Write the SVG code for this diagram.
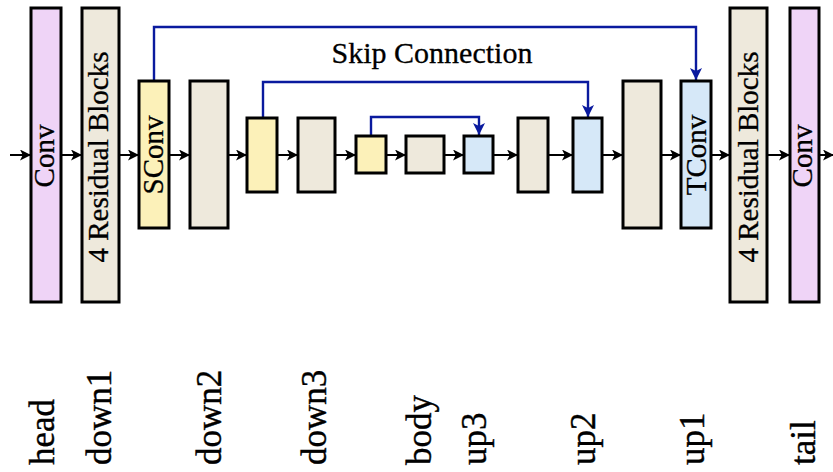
<svg xmlns="http://www.w3.org/2000/svg" width="833" height="472" viewBox="0 0 833 472">
  <defs>
    <marker id="arrow" viewBox="0 0 10 10" refX="10" refY="5" markerWidth="11" markerHeight="11" markerUnits="userSpaceOnUse" orient="auto">
      <path d="M0,0 L10,5 L0,10 L2.5,5 Z" fill="#000"/>
    </marker>
    <marker id="arrow-blue" viewBox="0 0 10 10" refX="10" refY="5" markerWidth="12" markerHeight="12" markerUnits="userSpaceOnUse" orient="auto">
      <path d="M0,0 L10,5 L0,10 L2.5,5 Z" fill="#0a1a9e"/>
    </marker>
    <style>
      .blk { stroke: #000; stroke-width: 3; }
      .conv { fill: #efd4f7; }
      .res { fill: #eee9dc; }
      .down { fill: #fcf1b9; }
      .up { fill: #d6e8f8; }
      .flow { stroke: #000; stroke-width: 2; fill: none; marker-end: url(#arrow); }
      .skip { stroke: #0a1a9e; stroke-width: 2.4; fill: none; marker-end: url(#arrow-blue); }
      .in { font-family: "Liberation Serif", "DejaVu Serif", serif; font-size: 29px; fill: #000; stroke: #000; stroke-width: 0.3; text-anchor: middle; }
      .cap { font-family: "Liberation Serif", "DejaVu Serif", serif; font-size: 35px; fill: #000; stroke: #000; stroke-width: 0.4; text-anchor: start; }
      .title { font-family: "Liberation Serif", "DejaVu Serif", serif; font-size: 30px; fill: #000; stroke: #000; stroke-width: 0.3; text-anchor: middle; }
    </style>
  </defs>

  <!-- main data path and skip connections -->
  <g id="connectors">
    <path class="flow" d="M10,155 H31"/>
    <path class="flow" d="M61,155 H82"/>
    <path class="flow" d="M119,155 H139"/>
    <path class="flow" d="M169,155 H190"/>
    <path class="flow" d="M228,155 H247"/>
    <path class="flow" d="M277,155 H298"/>
    <path class="flow" d="M335,155 H356"/>
    <path class="flow" d="M386,155 H406"/>
    <path class="flow" d="M444,155 H464"/>
    <path class="flow" d="M493,155 H518"/>
    <path class="flow" d="M548,155 H573"/>
    <path class="flow" d="M602,155 H623"/>
    <path class="flow" d="M661,155 H681"/>
    <path class="flow" d="M711,155 H730"/>
    <path class="flow" d="M767,155 H790"/>
    <path class="flow" d="M819,155 H834"/>

    <path class="skip" d="M154,80 V27 H696 V80"/>
    <path class="skip" d="M263,117 V82 H588 V117"/>
    <path class="skip" d="M371,135 V117 H479 V135"/>
    <text class="title" x="432" y="63">Skip Connection</text>
  </g>

  <g id="head">
    <rect class="blk conv" x="31" y="8" width="30" height="294"/>
    <text class="in" transform="translate(54,156) rotate(-90)">Conv</text>
  </g>
  <g id="down1-res">
    <rect class="blk res" x="82" y="8" width="37" height="294"/>
    <text class="in" transform="translate(108,157) rotate(-90)">4 Residual Blocks</text>
  </g>
  <g id="down1-sconv">
    <rect class="blk down" x="139" y="81" width="30" height="147"/>
    <text class="in" transform="translate(163,155) rotate(-90)">SConv</text>
  </g>
  <g id="down2-res">
    <rect class="blk res" x="190" y="81" width="38" height="147"/>
  </g>
  <g id="down2-sconv">
    <rect class="blk down" x="247" y="118" width="30" height="74"/>
  </g>
  <g id="down3-res">
    <rect class="blk res" x="298" y="118" width="37" height="74"/>
  </g>
  <g id="down3-sconv">
    <rect class="blk down" x="356" y="136" width="30" height="37"/>
  </g>
  <g id="body">
    <rect class="blk res" x="406" y="136" width="38" height="37"/>
  </g>
  <g id="up3-tconv">
    <rect class="blk up" x="464" y="136" width="29" height="37"/>
  </g>
  <g id="up3-res">
    <rect class="blk res" x="518" y="118" width="30" height="74"/>
  </g>
  <g id="up2-tconv">
    <rect class="blk up" x="573" y="118" width="29" height="74"/>
  </g>
  <g id="up2-res">
    <rect class="blk res" x="623" y="81" width="38" height="147"/>
  </g>
  <g id="up1-tconv">
    <rect class="blk up" x="681" y="81" width="30" height="147"/>
    <text class="in" transform="translate(706,155) rotate(-90)">TConv</text>
  </g>
  <g id="up1-res">
    <rect class="blk res" x="730" y="8" width="37" height="294"/>
    <text class="in" transform="translate(758,157) rotate(-90)">4 Residual Blocks</text>
  </g>
  <g id="tail">
    <rect class="blk conv" x="790" y="8" width="29" height="294"/>
    <text class="in" transform="translate(812,156) rotate(-90)">Conv</text>
  </g>

  <!-- stage names -->
  <g id="stage-labels">
    <text class="cap" transform="translate(54,465) rotate(-90)">head</text>
    <text class="cap" transform="translate(111,465) rotate(-90)">down1</text>
    <text class="cap" transform="translate(221,465) rotate(-90)">down2</text>
    <text class="cap" transform="translate(326,465) rotate(-90)">down3</text>
    <text class="cap" transform="translate(431,465) rotate(-90)">body</text>
    <text class="cap" transform="translate(486,465) rotate(-90)">up3</text>
    <text class="cap" transform="translate(595,465) rotate(-90)">up2</text>
    <text class="cap" transform="translate(704,465) rotate(-90)">up1</text>
    <text class="cap" transform="translate(815,465) rotate(-90)">tail</text>
  </g>
</svg>
